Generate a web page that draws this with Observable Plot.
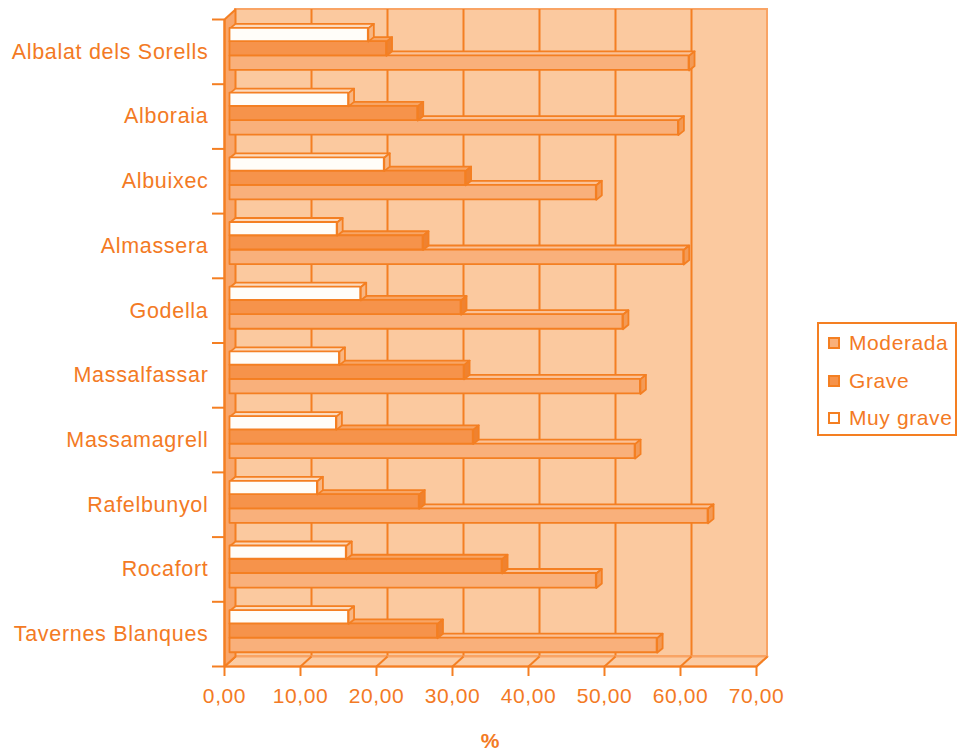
<!DOCTYPE html>
<html>
<head>
<meta charset="utf-8">
<script src="https://cdn.jsdelivr.net/npm/d3@7"></script>
<script src="https://cdn.jsdelivr.net/npm/@observablehq/plot@0.6"></script>
<style>
  html, body { margin: 0; padding: 0; background: #fff; }
  #wrap { position: relative; width: 958px; height: 753px; font-family: "Liberation Sans", Arial, sans-serif; }
  #wrap svg text { letter-spacing: 0.6px; }
  #wrap svg g.ylab text { letter-spacing: 0.7px; }
  #legend { position: absolute; left: 817px; top: 322px; width: 136px; height: 110px;
    border: 2px solid #F47F22; background: #fff; color: #F37A24; font-size: 21px; letter-spacing: 0.6px; }
  .item { position: absolute; left: 9px; height: 24px; line-height: 24px; white-space: nowrap; }
  .sw { display: inline-block; width: 8px; height: 8px; border: 2px solid #F47F22; margin-right: 9px; vertical-align: 1px; }
</style>
</head>
<body>
<div id="wrap"><div id="legend"></div></div>
<script>
// ---- data ----
const categories = ["Albalat dels Sorells", "Alboraia", "Albuixec", "Almassera", "Godella",
  "Massalfassar", "Massamagrell", "Rafelbunyol", "Rocafort", "Tavernes Blanques"];
const moderada = [60.4, 59.0, 48.2, 59.7, 51.7, 54.0, 53.3, 62.9, 48.2, 56.2];
const grave    = [20.6, 24.7, 31.0, 25.4, 30.4, 30.8, 32.0, 24.9, 35.8, 27.3];
const muyGrave = [18.2, 15.6, 20.3, 14.1, 17.2, 14.4, 14.0, 11.5, 15.3, 15.6];
const seriesNames = ["Moderada", "Grave", "Muy grave"];
const xTicks = [0, 10, 20, 30, 40, 50, 60, 70];
const xLabel = "%";

// ---- layout / style ----
const W = 958, H = 753;
const mL = 224, mR = 202, mT = 19, mB = 87;
const xMax = 70;
const pxX = (W - mL - mR) / xMax;              // px per unit
const pxY = (H - mT - mB) / categories.length; // px per category band
const ux = px => px / pxX, uy = px => px / pxY;
const BACK = [11, -10];   // back plane offset (px)
const BAR = [5.5, -5];    // bar plane offset (px)
const BD = [5.5, 4.5];    // bar depth (px)
const ORANGE = "#F47F22", TEXT = "#F37A24";
const styles = {
  "Moderada":  {slot: [0.64, 0.865], front: "#F9B07B", top: "#FBC196", side: "#F39A56"},
  "Grave":     {slot: [0.42, 0.64],  front: "#F6934B", top: "#F8A565", side: "#EF8230"},
  "Muy grave": {slot: [0.215, 0.42], front: "#FFFDF9", top: "#FCDABE", side: "#F8B683"}
};
const valuesBy = {"Moderada": moderada, "Grave": grave, "Muy grave": muyGrave};

const n = categories.length;
const fmt = d => d.toFixed(2).replace(".", ",");

// wall / floor polygons (in scale units, from the axis extents)
const bx = ux(BACK[0]), by = uy(-BACK[1]);
const leftWall = [[0, 0], [0, n], [bx, n - by], [bx, -by], [0, 0]].map(([x, y]) => ({x, y}));
const floor = [[0, n], [xMax, n], [xMax + bx, n - by], [bx, n - by], [0, n]].map(([x, y]) => ({x, y}));
const floorDiag = xTicks.map(t => ({x1: t, x2: t + bx, y1: n, y2: n - by}));

const barMarks = [];
for (const s of seriesNames) {
  const st = styles[s], vals = valuesBy[s];
  const [a, b] = st.slot;
  const ddx = ux(BD[0]), ddy = uy(BD[1]);
  const rects = [], tops = [], sides = [];
  vals.forEach((v, i) => {
    rects.push({x1: 0, x2: v, y1: i + a, y2: i + b});
    [[0, i + a], [v, i + a], [v + ddx, i + a - ddy], [ddx, i + a - ddy], [0, i + a]]
      .forEach(([x, y]) => tops.push({x, y, id: i}));
    [[v, i + a], [v + ddx, i + a - ddy], [v + ddx, i + b - ddy], [v, i + b], [v, i + a]]
      .forEach(([x, y]) => sides.push({x, y, id: i}));
  });
  const common = {dx: BAR[0], dy: BAR[1], stroke: ORANGE, strokeWidth: 1.8, strokeLinejoin: "round"};
  barMarks.push(Plot.line(tops, {x: "x", y: "y", z: "id", fill: st.top, ...common}));
  barMarks.push(Plot.line(sides, {x: "x", y: "y", z: "id", fill: st.side, ...common}));
  barMarks.push(Plot.rect(rects, {x1: "x1", x2: "x2", y1: "y1", y2: "y2", fill: st.front, ...common}));
}

const chart = Plot.plot({
  width: W, height: H,
  marginLeft: mL, marginRight: mR, marginTop: mT, marginBottom: mB,
  style: {fontFamily: "'Liberation Sans', Arial, sans-serif", fontSize: "21px", color: TEXT, background: "transparent", overflow: "visible"},
  x: {domain: [0, xMax], label: null},
  y: {domain: [0, n], reverse: true, label: null},
  marks: [
    // back wall
    Plot.rect([{}], {x1: 0, x2: xMax, y1: 0, y2: n, dx: BACK[0], dy: BACK[1], fill: "#FBC99F", stroke: "#F9A465", strokeWidth: 2}),
    Plot.ruleX(xTicks.slice(1, -1), {y1: 0, y2: n, dx: BACK[0], dy: BACK[1], stroke: ORANGE, strokeWidth: 2}),
    // floor
    Plot.line(floor, {x: "x", y: "y", fill: "#FBCBA3", stroke: "#F9A465", strokeWidth: 2}),
    Plot.link(floorDiag, {x1: "x1", x2: "x2", y1: "y1", y2: "y2", stroke: ORANGE, strokeWidth: 2}),
    // left wall
    Plot.line(leftWall, {x: "x", y: "y", fill: "#F8A66B", stroke: ORANGE, strokeWidth: 2}),
    // bars
    ...barMarks,
    // axis lines
    Plot.ruleY([n], {x1: 0, x2: xMax, stroke: ORANGE, strokeWidth: 2}),
    Plot.ruleX([0], {y1: 0, y2: n, stroke: ORANGE, strokeWidth: 2}),
    // y axis: boundary ticks and category labels
    Plot.axisY(d3.range(0, n + 1), {tickSize: 12, tickFormat: () => "", stroke: ORANGE, strokeWidth: 2}),
    Plot.axisY(d3.range(0.5, n, 1), {tickSize: 0, tickPadding: 16, fontSize: 21.5, className: "ylab", tickFormat: d => categories[Math.floor(d)]}),
    // x axis
    Plot.axisX(xTicks, {tickSize: 10, tickPadding: 12, fontSize: 21, tickFormat: fmt, stroke: ORANGE, strokeWidth: 2}),
    Plot.text([xLabel], {frameAnchor: "bottom", dy: 75, lineAnchor: "middle", fontWeight: "bold", fontSize: 21, fill: TEXT})
  ]
});
const wrap = document.getElementById("wrap");
wrap.insertBefore(chart, wrap.firstChild);
// tag label texts for letter spacing
chart.querySelectorAll("g[aria-label='y-axis tick label'] text").forEach(t => t.style.letterSpacing = "0.7px");

// legend
const legend = document.getElementById("legend");
const legendTops = [7, 45, 82];
const legendFill = {"Moderada": styles["Moderada"].front, "Grave": styles["Grave"].front, "Muy grave": "#ffffff"};
seriesNames.forEach((s, k) => {
  const it = document.createElement("div");
  it.className = "item";
  it.style.top = legendTops[k] + "px";
  it.innerHTML = `<span class="sw" style="background:${legendFill[s]}"></span>${s}`;
  legend.appendChild(it);
});
</script>
</body>
</html>
